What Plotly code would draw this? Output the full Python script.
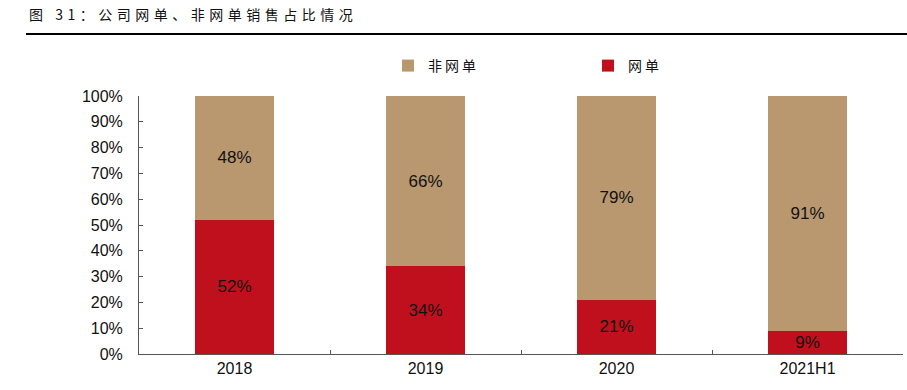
import plotly.graph_objects as go

categories = ["2018", "2019", "2020", "2021H1"]
online = [52, 34, 21, 9]          # 网单
offline = [48, 66, 79, 91]        # 非网单
y_ticks = [0, 10, 20, 30, 40, 50, 60, 70, 80, 90, 100]

RED = "#C0101D"
TAN = "#B9976F"

W, H = 907, 390
# plot area in page pixels: x 139..903, y 96..354
L, R, T, B = 139, W - 903, 96, H - 354
pw = W - L - R
ph = H - T - B

def px_x(p):
    return (p - L) / pw

def px_y(p):
    return (H - B - p) / ph

fig = go.Figure()
fig.add_trace(go.Bar(
    x=categories, y=online, name='<span style="letter-spacing:3px">网单</span>',
    marker=dict(color=RED, line=dict(width=0)),
    text=[f"{v}%" for v in online], textposition="inside", insidetextanchor="middle",
    textfont=dict(family="Liberation Sans, Arial", size=17, color="#111111"),
    hoverinfo="skip",
))
fig.add_trace(go.Bar(
    x=categories, y=offline, name='<span style="letter-spacing:3px">非网单</span>',
    marker=dict(color=TAN, line=dict(width=0)),
    text=[f"{v}%" for v in offline], textposition="inside", insidetextanchor="middle",
    textfont=dict(family="Liberation Sans, Arial", size=17, color="#111111"),
    hoverinfo="skip",
))

fig.update_layout(
    width=W, height=H,
    margin=dict(l=L, r=R, t=T, b=B, pad=0, autoexpand=False),
    barmode="stack", bargap=0.59,
    plot_bgcolor="white", paper_bgcolor="white",
    uniformtext=dict(minsize=17, mode="show"),
    font=dict(family="Liberation Sans, Arial", size=16, color="#111111"),
    showlegend=True,
    legend=dict(
        orientation="h", traceorder="reversed",
        xref="container", yref="container",
        x=388 / W, y=1 - 66 / H, xanchor="left", yanchor="middle",
        font=dict(family="Noto Sans CJK SC", size=14, color="#111111"),
        entrywidth=155, entrywidthmode="pixels",
        bgcolor="rgba(0,0,0,0)", itemclick=False,
    ),
    xaxis=dict(
        type="category", showline=True, linecolor="#555555", linewidth=1,
        ticks="inside", ticklen=4, tickcolor="#555555", tickson="boundaries",
        showgrid=False, tickfont=dict(size=16, color="#111111"),
        automargin=False,
    ),
    yaxis=dict(
        range=[0, 100], tickvals=y_ticks, ticktext=[f"{v}%" for v in y_ticks],
        showline=True, linecolor="#555555", linewidth=1,
        ticks="inside", ticklen=4, tickcolor="#555555",
        showgrid=False, zeroline=False, tickfont=dict(size=16, color="#111111"),
        ticklabelstandoff=12, automargin=False,
    ),
)

fig.add_annotation(
    text='<span style="letter-spacing:4.5px">图 31：公司网单、非网单销售占比情况</span>',
    xref="paper", yref="paper", x=px_x(27), y=px_y(14),
    xanchor="left", yanchor="middle", showarrow=False,
    font=dict(family="Noto Sans CJK SC", size=14, color="#111111"),
)
fig.add_shape(
    type="line", xref="paper", yref="paper",
    x0=px_x(26), x1=px_x(907), y0=px_y(34), y1=px_y(34),
    line=dict(color="#000000", width=2),
)

fig.write_html(
    "out.html",
    config={"displayModeBar": False},
    post_script="document.body.style.margin='0';document.body.style.overflow='hidden';",
)
